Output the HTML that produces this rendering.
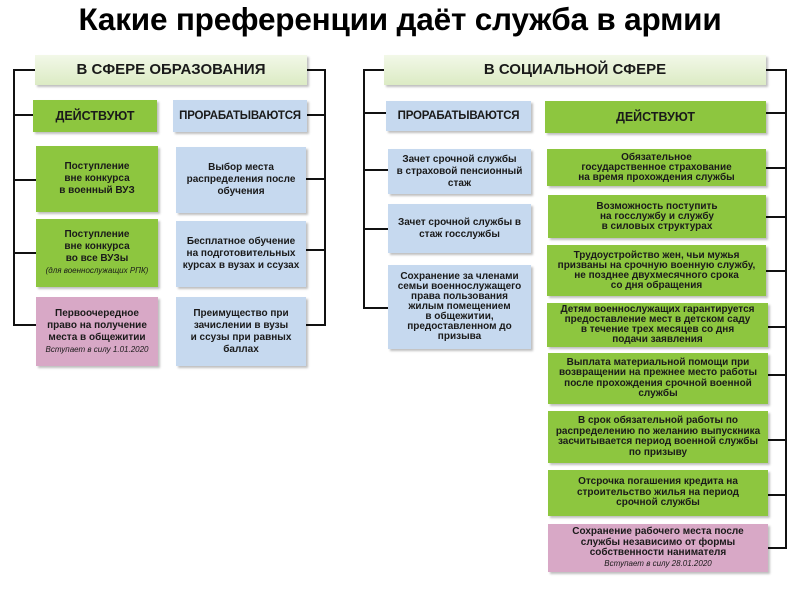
<!DOCTYPE html>
<html><head><meta charset="utf-8"><style>
*{margin:0;padding:0;box-sizing:border-box}
body{width:800px;height:597px;background:#fff;position:relative;overflow:hidden;font-family:"Liberation Sans",sans-serif}
.t{position:absolute;left:0;width:800px;top:1px;text-align:center;font-weight:bold;font-size:31.5px;color:#000;letter-spacing:-0.2px}
.b{position:absolute;display:flex;flex-direction:column;align-items:center;justify-content:center;text-align:center;font-weight:bold;font-size:10px;line-height:12px;color:#1a1a1a;box-shadow:2px 2px 2px rgba(0,0,0,.25)}
.g{background:#8dc63f}
.bl{background:#c6d9ef}
.p{background:#d8a8c6}
.h{background:linear-gradient(#f2f8e8,#dcebc4);font-size:15px}
.s{font-size:12.5px}
.s2{font-size:11.5px;letter-spacing:-0.2px}
i{font-weight:normal;font-size:8px}
</style></head><body>
<div class="t">Какие преференции даёт служба в армии</div>
<svg width="800" height="597" style="position:absolute;left:0;top:0">
<g stroke="#111" stroke-width="2" fill="none">
<path d="M35 70H14V325H36M14 115H33M14 180H36M14 253H36"/>
<path d="M307 70H325V325H306M307 115H325M306 179H325M306 250H325"/>
<path d="M384 70H364V308H388M364 113H386M364 170H388M364 229H388"/>
<path d="M766 70H786V548H766M766 113H786M766 168H786M766 217H786M766 271H786M766 327H786M766 375H786M766 440H786M766 495H786"/>
</g></svg>
<div class="b h" style="left:35px;top:55px;width:272px;height:30px">В СФЕРЕ ОБРАЗОВАНИЯ</div>
<div class="b g s" style="left:33px;top:100px;width:124px;height:32px">ДЕЙСТВУЮТ</div>
<div class="b bl s2" style="left:173px;top:100px;width:134px;height:32px">ПРОРАБАТЫВАЮТСЯ</div>
<div class="b g" style="left:36px;top:146px;width:122px;height:66px">Поступление<br>вне конкурса<br>в военный ВУЗ</div>
<div class="b g" style="left:36px;top:219px;width:122px;height:68px">Поступление<br>вне конкурса<br>во все ВУЗы<i>(для военнослужащих РПК)</i></div>
<div class="b p" style="left:36px;top:297px;width:122px;height:69px">Первоочередное<br>право на получение<br>места в общежитии<i>Вступает в силу 1.01.2020</i></div>
<div class="b bl" style="left:176px;top:147px;width:130px;height:66px">Выбор места<br>распределения после<br>обучения</div>
<div class="b bl" style="left:176px;top:221px;width:130px;height:66px">Бесплатное обучение<br>на подготовительных<br>курсах в вузах и ссузах</div>
<div class="b bl" style="left:176px;top:297px;width:130px;height:69px">Преимущество при<br>зачислении в вузы<br>и ссузы при равных<br>баллах</div>

<div class="b h" style="left:384px;top:55px;width:382px;height:30px">В СОЦИАЛЬНОЙ СФЕРЕ</div>
<div class="b bl s2" style="left:386px;top:101px;width:145px;height:30px">ПРОРАБАТЫВАЮТСЯ</div>
<div class="b g s" style="left:545px;top:101px;width:221px;height:32px">ДЕЙСТВУЮТ</div>
<div class="b bl" style="left:388px;top:149px;width:143px;height:45px">Зачет срочной службы<br>в страховой пенсионный<br>стаж</div>
<div class="b bl" style="left:388px;top:204px;width:143px;height:49px">Зачет срочной службы в<br>стаж госслужбы</div>
<div class="b bl" style="left:388px;top:265px;width:143px;height:84px;line-height:10px">Сохранение за членами<br>семьи военнослужащего<br>права пользования<br>жилым помещением<br>в общежитии,<br>предоставленном до<br>призыва</div>
<div class="b g" style="left:547px;top:149px;width:219px;height:37px;line-height:10px">Обязательное<br>государственное страхование<br>на время прохождения службы</div>
<div class="b g" style="left:548px;top:195px;width:218px;height:43px;line-height:10px">Возможность поступить<br>на госслужбу и службу<br>в силовых структурах</div>
<div class="b g" style="left:547px;top:245px;width:219px;height:51px;line-height:10px">Трудоустройство жен, чьи мужья<br>призваны на срочную военную службу,<br>не позднее двухмесячного срока<br>со дня обращения</div>
<div class="b g" style="left:547px;top:303px;width:221px;height:44px;line-height:10px">Детям военнослужащих гарантируется<br>предоставление мест в детском саду<br>в течение трех месяцев со дня<br>подачи заявления</div>
<div class="b g" style="left:548px;top:353px;width:220px;height:51px;line-height:10.5px">Выплата материальной помощи при<br>возвращении на прежнее место работы<br>после прохождения срочной военной<br>службы</div>
<div class="b g" style="left:548px;top:411px;width:220px;height:52px;line-height:10.5px">В срок обязательной работы по<br>распределению по желанию выпускника<br>засчитывается период военной службы<br>по призыву</div>
<div class="b g" style="left:548px;top:470px;width:220px;height:46px;line-height:10.5px">Отсрочка погашения кредита на<br>строительство жилья на период<br>срочной службы</div>
<div class="b p" style="left:548px;top:524px;width:220px;height:48px;line-height:10.5px">Сохранение рабочего места после<br>службы независимо от формы<br>собственности нанимателя<i>Вступает в силу 28.01.2020</i></div>
</body></html>
